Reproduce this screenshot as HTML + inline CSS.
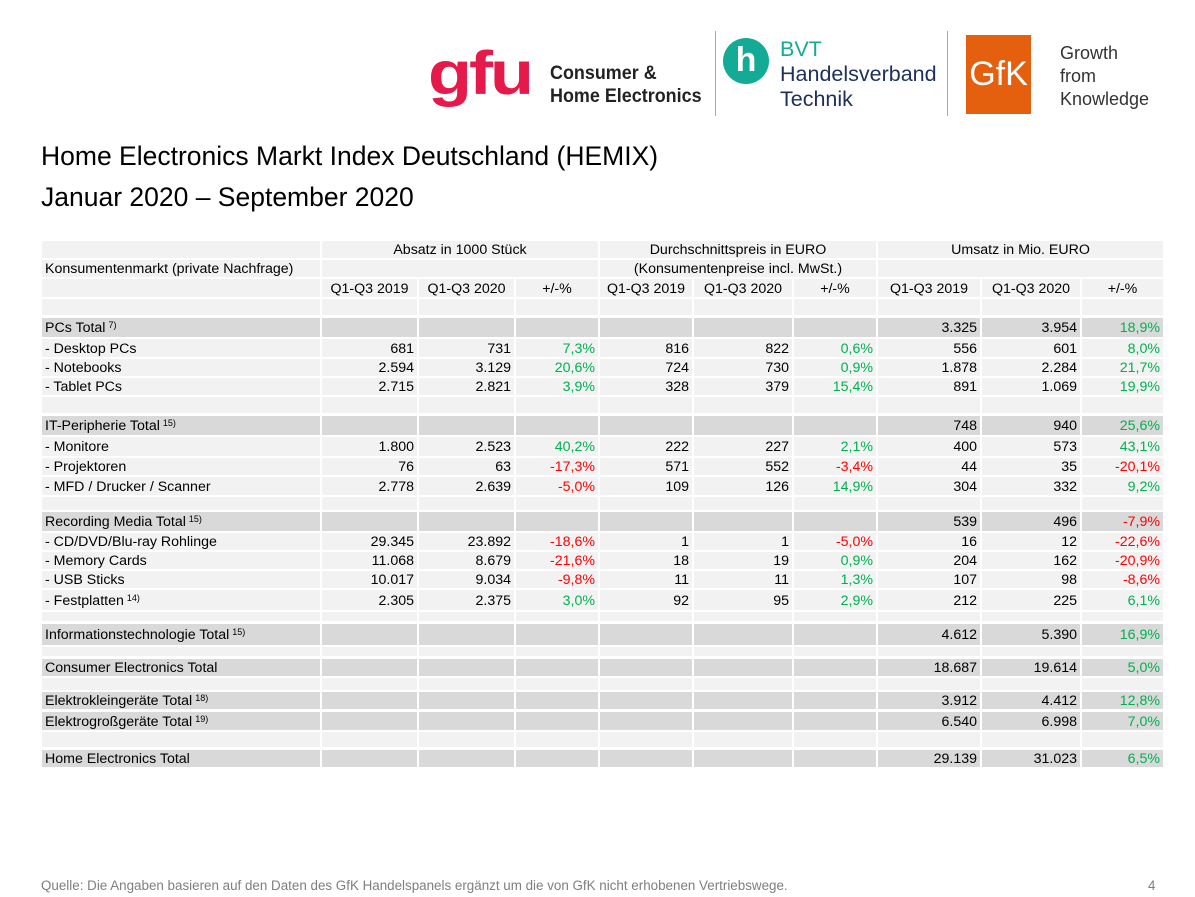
<!DOCTYPE html>
<html><head><meta charset="utf-8">
<style>
body{margin:0;width:1195px;height:897px;background:#fff;position:relative;overflow:hidden;font-family:"Liberation Sans",Arial,sans-serif;color:#000}
.c{position:absolute;box-sizing:border-box;font-size:14.2px;line-height:1;display:flex;align-items:center;white-space:nowrap;padding:2px 3px 0 3px}
.r{justify-content:flex-end}
.m{justify-content:center}
.g{color:#00b050}.n{color:#ff0000}
sup{font-size:9px;position:relative;top:-3px;vertical-align:baseline;margin-left:3px}
.t{position:absolute;left:41px;font-size:26.5px;white-space:nowrap}
</style></head><body>
<div style="position:absolute;left:425px;top:25px;width:750px;height:100px">
  <div style="position:absolute;left:3px;top:18px;font-size:72px;font-weight:bold;color:#e5194a;letter-spacing:-3px;line-height:1;transform:scaleY(0.85);transform-origin:top">gfu</div>
  <div style="position:absolute;left:125px;top:37px;font-size:19.5px;font-weight:bold;color:#222;line-height:23px;transform:scaleX(0.92);transform-origin:left">Consumer &amp;<br>Home Electronics</div>
  <div style="position:absolute;left:290px;top:6px;width:1px;height:85px;background:#aaa"></div>
  <div style="position:absolute;left:298px;top:13px;width:46px;height:46px;border-radius:50%;background:#13ab95;color:#fff;font-size:34px;font-weight:bold;text-align:center;line-height:44px">h</div>
  <div style="position:absolute;left:355px;top:12px;font-size:21.5px;line-height:25px;color:#1e2f5a"><span style="color:#13ab95">BVT</span><br>Handelsverband<br>Technik</div>
  <div style="position:absolute;left:522px;top:6px;width:1px;height:85px;background:#aaa"></div>
  <div style="position:absolute;left:541px;top:10px;width:65px;height:79px;background:#e5600e;color:#fff;font-size:34px;line-height:79px;text-align:center">GfK</div>
  <div style="position:absolute;left:635px;top:17px;font-size:18px;line-height:23px;color:#333">Growth<br>from<br>Knowledge</div>
</div>
<div class="t" style="top:141px">Home Electronics Markt Index Deutschland (HEMIX)</div>
<div class="t" style="top:182px">Januar 2020 – September 2020</div>
<div id="tbl"></div>
<div style="position:absolute;left:41px;top:878px;font-size:13.4px;color:#7f7f7f">Quelle: Die Angaben basieren auf den Daten des GfK Handelspanels ergänzt um die von GfK nicht erhobenen Vertriebswege.</div>
<div style="position:absolute;left:1148px;top:878px;font-size:13.4px;color:#7f7f7f">4</div>
<script>
const colX=[[42,320],[322,417],[419,514],[516,598],[600,692],[694,792],[794,876],[878,980],[982,1080],[1082,1163]];
const rowLabels=["PCs Total","- Desktop PCs","- Notebooks","- Tablet PCs","","IT-Peripherie Total","- Monitore","- Projektoren","- MFD / Drucker / Scanner","","Recording Media Total","- CD/DVD/Blu-ray Rohlinge","- Memory Cards","- USB Sticks","- Festplatten","","Informationstechnologie Total","","Consumer Electronics Total","","Elektrokleingeräte Total","Elektrogroßgeräte Total","","Home Electronics Total"];
const rowNotes=["7)","","","","","15)","","","","","15)","","","","14)","","15)","","","","18)","19)","",""];
const rowTops=[318,339,359,378,397,416,437,458,477,497,512,533,552,571,590,612,624,647,659,678,692,712,732,750];
const rowBots=[337,357,376,395,413,435,456,475,495,510,531,550,569,588,610,621,645,656,676,690,709,730,747,767];
const absatz19=["","681","2.594","2.715","","","1.800","76","2.778","","","29.345","11.068","10.017","2.305","","","","","","","","",""];
const absatz20=["","731","3.129","2.821","","","2.523","63","2.639","","","23.892","8.679","9.034","2.375","","","","","","","","",""];
const absatzPct=["","7,3%","20,6%","3,9%","","","40,2%","-17,3%","-5,0%","","","-18,6%","-21,6%","-9,8%","3,0%","","","","","","","","",""];
const preis19=["","816","724","328","","","222","571","109","","","1","18","11","92","","","","","","","","",""];
const preis20=["","822","730","379","","","227","552","126","","","1","19","11","95","","","","","","","","",""];
const preisPct=["","0,6%","0,9%","15,4%","","","2,1%","-3,4%","14,9%","","","-5,0%","0,9%","1,3%","2,9%","","","","","","","","",""];
const umsatz19=["3.325","556","1.878","891","","748","400","44","304","","539","16","204","107","212","","4.612","","18.687","","3.912","6.540","","29.139"];
const umsatz20=["3.954","601","2.284","1.069","","940","573","35","332","","496","12","162","98","225","","5.390","","19.614","","4.412","6.998","","31.023"];
const umsatzPct=["18,9%","8,0%","21,7%","19,9%","","25,6%","43,1%","-20,1%","9,2%","","-7,9%","-22,6%","-20,9%","-8,6%","6,1%","","16,9%","","5,0%","","12,8%","7,0%","","6,5%"];
const groupHeads=["Absatz in 1000 Stück","Durchschnittspreis in EURO","Umsatz in Mio. EURO"];
const groupSub=["","(Konsumentenpreise incl. MwSt.)",""];
const colHeads=["Q1-Q3 2019","Q1-Q3 2020","+/-%"];
const tbl=document.getElementById('tbl');
function cell(x0,x1,y0,y1,txt,cls,bg){
  const d=document.createElement('div');
  d.className='c '+(cls||'');
  d.style.left=x0+'px';d.style.width=(x1-x0)+'px';d.style.top=y0+'px';d.style.height=(y1-y0)+'px';
  d.style.background=bg;
  d.innerHTML=txt;
  tbl.appendChild(d);return d;
}
const L='#f2f2f2',D='#d9d9d9';
let h;
h=cell(42,320,241,258,'','',L);
h=cell(42,320,260,277,'Konsumentenmarkt (private Nachfrage)','',L);
h=cell(42,320,279,297,'','',L);
for(let g=0;g<3;g++){
  const a=colX[1+g*3][0],b=colX[3+g*3][1];
  h=cell(a,b,241,258,groupHeads[g],'m',L);
  h=cell(a,b,260,277,groupSub[g],'m',L);
  for(let k=0;k<3;k++){
    const c=colX[1+g*3+k];
    h=cell(c[0],c[1],279,297,colHeads[k],'m',L);
  }
}
for(let i=0;i<10;i++){
  h=cell(colX[i][0],colX[i][1],299,315,'','',L);
  
  
}
const series=[absatz19,absatz20,absatzPct,preis19,preis20,preisPct,umsatz19,umsatz20,umsatzPct];
for(let r=0;r<rowLabels.length;r++){
  const lbl=rowLabels[r];
  const bg=lbl.indexOf('Total')>=0?D:L;
  const y0=rowTops[r],y1=rowBots[r];
  h=cell(colX[0][0],colX[0][1],y0,y1,lbl+(rowNotes[r]?'<sup>'+rowNotes[r]+'</sup>':''),'',bg);
  
  
  for(let s=0;s<9;s++){
    const v=series[s][r];let cls='r';
    if(s%3==2&&v){cls+=v[0]=='-'?' n':' g';}
    h=cell(colX[s+1][0],colX[s+1][1],y0,y1,v,cls,bg);
    
    
  }
}
</script>
</body></html>
